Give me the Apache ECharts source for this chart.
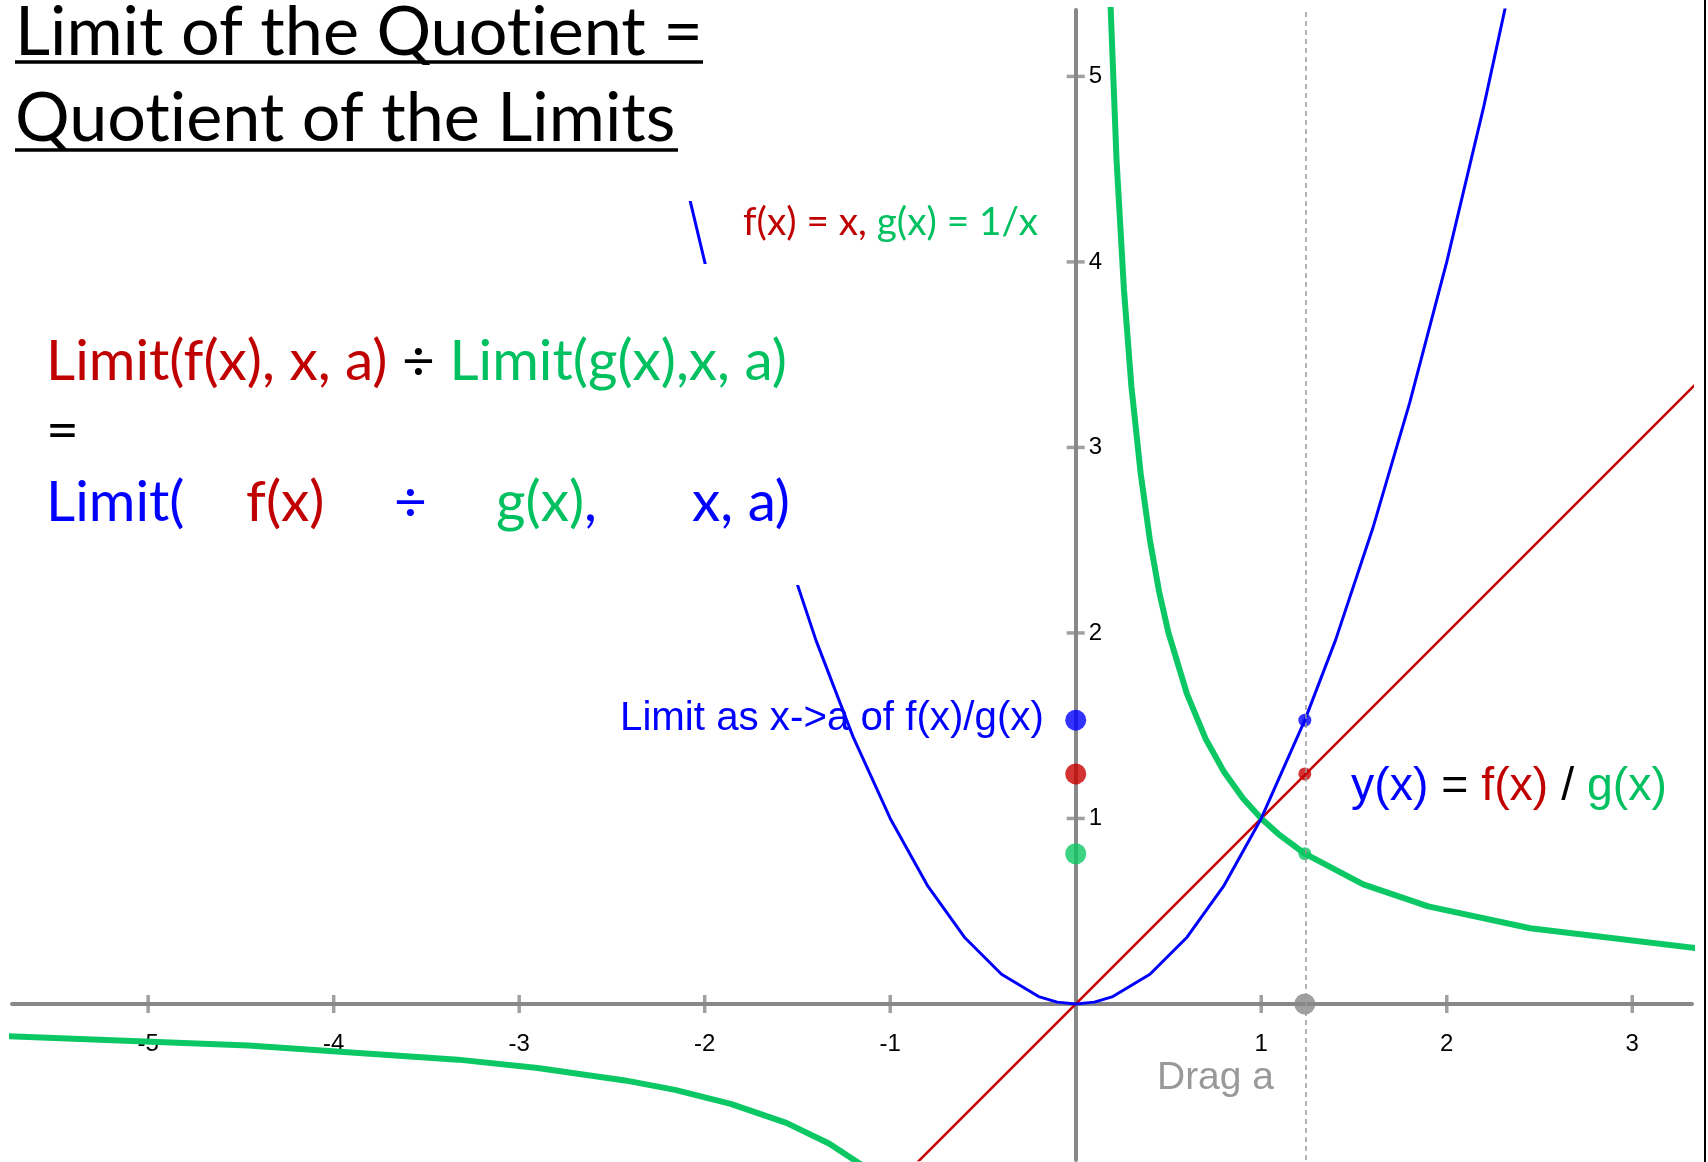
<!DOCTYPE html>
<html>
<head>
<meta charset="utf-8">
<script src="https://cdn.jsdelivr.net/npm/echarts@6/dist/echarts.min.js"></script>
<style>
    html, body { margin: 0; padding: 0; background: #fff; }
    #chart { width: 1708px; height: 1162px; }
</style>
</head>
<body>
<div id="chart"></div>
<script>
// axis ticks
const xTicks = [-5, -4, -3, -2, -1, 1, 2, 3];
const yTicks = [1, 2, 3, 4, 5];

// f(x) = x
const redX = [-0.95, 3.4];
const redY = [-0.95, 3.4];

// g(x) = 1/x (GeoGebra polyline)
const greenLeftX = [-5.8, -4.46, -3.33, -2.9, -2.43, -2.16, -1.86, -1.56, -1.33, -1.15];
const greenLeftY = [-0.172, -0.224, -0.3, -0.345, -0.412, -0.463, -0.538, -0.641, -0.752, -0.87];
const greenRightX = [0.175, 0.22, 0.26, 0.3, 0.35, 0.4, 0.45, 0.5, 0.6, 0.7, 0.8, 0.9, 1.0, 1.1, 1.235, 1.55, 1.9, 2.45, 3.35];
const greenRightY = [5.71, 4.55, 3.85, 3.33, 2.86, 2.5, 2.22, 2.0, 1.67, 1.43, 1.25, 1.11, 1.0, 0.91, 0.81, 0.645, 0.526, 0.408, 0.3];

// y(x) = f(x) / g(x)
const blueX = [-2.4, -2.2, -2.0, -1.8, -1.6, -1.4, -1.2, -1.0, -0.8, -0.6, -0.4, -0.2, -0.1, 0, 0.1, 0.2, 0.4, 0.6, 0.8, 1.0, 1.235, 1.4, 1.6, 1.8, 2.0, 2.2, 2.4];
const blueY = [5.76, 4.84, 4.0, 3.24, 2.56, 1.96, 1.44, 1.0, 0.64, 0.36, 0.16, 0.04, 0.01, 0, 0.01, 0.04, 0.16, 0.36, 0.64, 1.0, 1.53, 1.96, 2.56, 3.24, 4.0, 4.84, 5.76];

// the slider point a and the values there: quotient, f, g
const aX = 1.235;
const limitVals = [1.53, 1.24, 0.81];

const X_MIN = -5.734, X_MAX = 3.322;
const Y_MIN = -0.841, Y_MAX = 5.358;

const RED = '#C80000';
const GREEN = '#0BC864';
const BLUE = '#0000FF';
const GRAY = '#888888';
const TXT_RED = '#C00000';
const TXT_GREEN = '#00C060';
const dotColors = [BLUE, RED, GREEN];

const zip = (xs, ys) => xs.map((x, i) => [x, ys[i]]);

const CAL = 'Lato';
const ARIAL = 'Liberation Sans';
const ZWNJ = '\u200C'; // keeps Lato from joining "ti"
const ctx = document.createElement('canvas').getContext('2d');
const fitSize = (text, family, width) => {
    ctx.font = `100px "${family}"`;
    return 100 * width / ctx.measureText(text).width;
};

const title1 = `Limit of the Quot${ZWNJ}ient =`;
const title2 = `Quot${ZWNJ}ient of the Limits`;
const titleSize = fitSize(title1, CAL, 688);
const formulaSize = fitSize('Limit(f(x), x, a) ÷ Limit(g(x),x, a)', CAL, 741);
const noteSize = fitSize('f(x) = x, g(x) = 1/x', CAL, 295);
const limitSize = fitSize('Limit as x->a of f(x)/g(x)', ARIAL, 424);
const quotSize = fitSize('y(x) = f(x) / g(x)', ARIAL, 316);
const dragSize = fitSize('Drag a', ARIAL, 117);

const txt = (x, y, text, size, family, fill, rich) => ({
    type: 'text', x, y, z: 100,
    style: { text, fontSize: size, fontFamily: family, fill, align: 'left', verticalAlign: 'middle', rich },
});
const richOf = (size, family, colors) => {
    const r = {};
    Object.keys(colors).forEach(k => { r[k] = { fontSize: size, fontFamily: family, fill: colors[k] }; });
    return r;
};

const formulaRich = richOf(formulaSize, CAL, { r: TXT_RED, k: '#000', g: TXT_GREEN, b: BLUE });
const tickLabel = { fontSize: 24, fontFamily: ARIAL, color: '#000' };

const chart = echarts.init(document.getElementById('chart'));
chart.setOption({
    animation: false,
    grid: { left: 12, right: 16, top: 10, bottom: 2, outerBoundsMode: 'none' },
    xAxis: {
        type: 'value', min: X_MIN, max: X_MAX,
        axisLine: { onZero: false, lineStyle: { color: GRAY, width: 4 } },
        axisTick: { show: false },
        splitLine: { show: false },
        axisLabel: { ...tickLabel, customValues: xTicks, margin: 28 },
    },
    yAxis: {
        type: 'value', min: Y_MIN, max: Y_MAX,
        axisLine: { onZero: false, lineStyle: { color: GRAY, width: 4 } },
        axisTick: { show: false },
        splitLine: { show: false },
        axisLabel: { ...tickLabel, customValues: yTicks, inside: true, margin: 13 },
    },
    series: [
        { type: 'scatter', symbol: 'rect', symbolSize: [3.5, 18], itemStyle: { color: GRAY }, data: xTicks.map(v => [v, 0]) },
        { type: 'scatter', symbol: 'rect', symbolSize: [18, 3.5], itemStyle: { color: GRAY }, data: yTicks.map(v => [0, v]) },
        {
            type: 'line', showSymbol: false, data: zip(redX, redY), lineStyle: { color: RED, width: 2.5 },
            markLine: { silent: true, symbol: 'none', label: { show: false }, lineStyle: { color: '#999', width: 1.5, type: [5, 4] }, data: [{ xAxis: aX }] },
        },
        { type: 'line', showSymbol: false, data: zip(greenLeftX, greenLeftY), lineStyle: { color: GREEN, width: 6 } },
        { type: 'line', showSymbol: false, data: zip(greenRightX, greenRightY), lineStyle: { color: GREEN, width: 6 } },
        { type: 'line', showSymbol: false, data: zip(blueX, blueY), lineStyle: { color: BLUE, width: 3 } },
        {
            type: 'scatter', symbolSize: 21,
            data: limitVals.map((v, i) => ({ value: [0, v], itemStyle: { color: dotColors[i] } })),
        },
        {
            type: 'scatter', symbolSize: 13,
            data: limitVals.map((v, i) => ({ value: [aX, v], itemStyle: { color: dotColors[i] } })),
        },
        { type: 'scatter', symbolSize: 21, itemStyle: { color: GRAY }, data: [[aX, 0]] },
    ],
    graphic: [
        // white text boxes hide the blue curve behind them
        { type: 'rect', z: 90, shape: { x: 0, y: 0, width: 720, height: 201 }, style: { fill: '#fff' } },
        { type: 'rect', z: 90, shape: { x: 0, y: 264, width: 800, height: 321 }, style: { fill: '#fff' } },
        txt(15, 33, title1, titleSize, CAL, '#000'),
        txt(15, 119, title2, titleSize, CAL, '#000'),
        { type: 'line', z: 100, shape: { x1: 15, y1: 62, x2: 703, y2: 62 }, style: { stroke: '#000', lineWidth: 3.5 } },
        { type: 'line', z: 100, shape: { x1: 15, y1: 150, x2: 678, y2: 150 }, style: { stroke: '#000', lineWidth: 3.5 } },
        txt(46, 362, '{r|Limit(f(x), x, a)} {k|÷} {g|Limit(g(x),x, a)}', formulaSize, CAL, '#000', formulaRich),
        txt(46, 431, '=', formulaSize, CAL, '#000'),
        txt(46, 503, 'Limit(', formulaSize, CAL, BLUE),
        txt(246, 503, 'f(x)', formulaSize, CAL, TXT_RED),
        txt(394, 503, '÷', formulaSize, CAL, BLUE),
        txt(496, 503, '{g|g(x)}{b|,}', formulaSize, CAL, TXT_GREEN, formulaRich),
        txt(692, 503, 'x, a)', formulaSize, CAL, BLUE),
        txt(743, 223, '{r|f(x) = x,} {g|g(x) = 1/x}', noteSize, CAL, '#000',
            richOf(noteSize, CAL, { r: TXT_RED, g: TXT_GREEN })),
        txt(620, 719, 'Limit as x->a of f(x)/g(x)', limitSize, ARIAL, BLUE),
        txt(1351, 787, '{b|y(x)} {k|=} {r|f(x)} {k|/} {g|g(x)}', quotSize, ARIAL, '#000',
            richOf(quotSize, ARIAL, { b: BLUE, k: '#000', r: TXT_RED, g: TXT_GREEN })),
        txt(1157, 1078, 'Drag a', dragSize, ARIAL, '#999'),
        { type: 'line', z: 100, shape: { x1: 1705, y1: 0, x2: 1705, y2: 1162 }, style: { stroke: '#000', lineWidth: 2 } },
    ],
});

// move both axes onto the origin so their labels follow the lines
const origin = chart.convertToPixel({ gridIndex: 0 }, [0, 0]);
const corner = chart.convertToPixel({ gridIndex: 0 }, [X_MIN, Y_MIN]);
chart.setOption({
    xAxis: { offset: -(corner[1] - origin[1]) },
    yAxis: { offset: -(origin[0] - corner[0]) },
});
</script>
</body>
</html>
